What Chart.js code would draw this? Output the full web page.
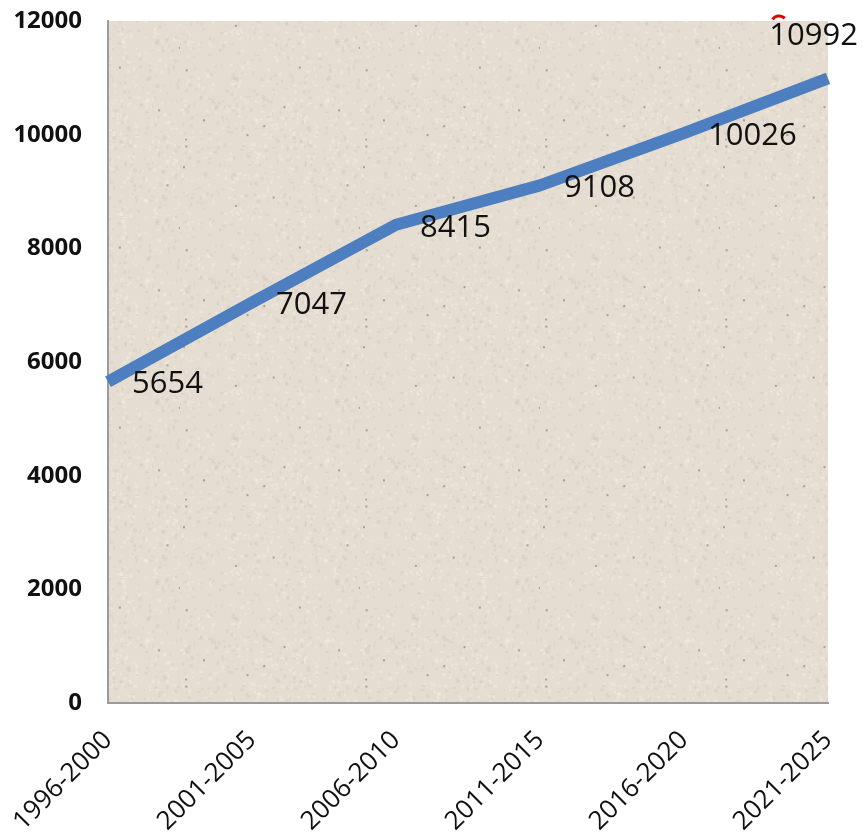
<!DOCTYPE html>
<html>
<head>
<meta charset="utf-8">
<script src="https://cdn.jsdelivr.net/npm/chart.js@4/dist/chart.umd.min.js"></script>
<style>
  html, body { margin: 0; padding: 0; background: #fff; }
  #wrap { width: 865px; height: 835px; position: relative; }
</style>
</head>
<body>
<div id="wrap"><canvas id="chart" width="865" height="835"></canvas></div>
<script>
// periods on the x axis and the population values for each period
const periods = ['1996-2000', '2001-2005', '2006-2010', '2011-2015', '2016-2020', '2021-2025'];
const values = [5654, 7047, 8415, 9108, 10026, 10992];
const yTicks = [0, 2000, 4000, 6000, 8000, 10000, 12000];

// builds a small speckled paper tile used to fill the plot area
function makePaperPattern(ctx) {
  const tile = document.createElement('canvas');
  tile.width = 180;
  tile.height = 180;
  const t = tile.getContext('2d');
  t.fillStyle = '#e5ddd1';
  t.fillRect(0, 0, 180, 180);
  let seed = 7;
  function rnd() {
    seed = (seed * 16807) % 2147483647;
    return (seed - 1) / 2147483646;
  }
  // soft light and dark blotches
  for (let i = 0; i < 900; i++) {
    const x = rnd() * 180, y = rnd() * 180;
    const light = rnd() > 0.5;
    t.fillStyle = light ? 'rgba(245,241,234,0.35)' : 'rgba(200,190,175,0.25)';
    t.fillRect(x, y, 1 + rnd() * 3, 1 + rnd() * 3);
  }
  // a few darker grains
  for (let i = 0; i < 14; i++) {
    const x = rnd() * 180, y = rnd() * 180;
    t.fillStyle = 'rgba(120,110,100,0.55)';
    t.fillRect(x, y, 2, 2);
  }
  return ctx.createPattern(tile, 'repeat');
}

const paperBackground = {
  id: 'paperBackground',
  beforeDraw(chart) {
    const { ctx, chartArea } = chart;
    ctx.save();
    ctx.fillStyle = makePaperPattern(ctx);
    ctx.fillRect(chartArea.left, chartArea.top,
      chartArea.right - chartArea.left, chartArea.bottom - chartArea.top);
    ctx.restore();
  }
};

// value labels: below and right of each point, above the point when it would run off the right side
const valueLabels = {
  id: 'valueLabels',
  afterDatasetsDraw(chart) {
    const { ctx } = chart;
    const meta = chart.getDatasetMeta(0);
    ctx.save();
    ctx.font = '31px "Open Sans", sans-serif';
    ctx.fillStyle = '#111';
    ctx.textBaseline = 'middle';
    meta.data.forEach((pt, i) => {
      const text = String(chart.data.datasets[0].data[i]);
      const w = ctx.measureText(text).width;
      if (pt.x + 24 + w > chart.width) {
        ctx.textAlign = 'right';
        ctx.fillText(text, pt.x + 30, pt.y - 42);
      } else {
        ctx.textAlign = 'left';
        ctx.fillText(text, pt.x + 24, pt.y + 3);
      }
    });
    // small red stroke near the top right corner
    ctx.strokeStyle = '#e00000';
    ctx.lineWidth = 3;
    ctx.beginPath();
    ctx.arc(779, 24, 8, Math.PI * 1.2, Math.PI * 1.75);
    ctx.stroke();
    ctx.restore();
  }
};

new Chart(document.getElementById('chart'), {
  type: 'line',
  data: {
    labels: periods,
    datasets: [{
      data: values,
      borderColor: '#4d7ebf',
      borderWidth: 12,
      pointRadius: 0,
      tension: 0,
      fill: false,
      borderJoinStyle: 'round',
      borderCapStyle: 'butt'
    }]
  },
  options: {
    responsive: false,
    animation: false,
    layout: { padding: { top: 21, right: 37, left: 0, bottom: 0 } },
    plugins: {
      legend: { display: false },
      tooltip: { enabled: false }
    },
    scales: {
      x: {
        offset: false,
        grid: { display: false, drawTicks: false },
        border: { display: true, color: '#9b9b9b', width: 2 },
        ticks: {
          minRotation: 45,
          maxRotation: 45,
          padding: 22,
          color: '#111',
          font: { family: '"Open Sans", sans-serif', size: 26 }
        },
        afterFit(scale) {
          scale.height = 132;
          scale.paddingLeft = 0;
          scale.paddingRight = 0;
        }
      },
      y: {
        min: 0,
        max: 12000,
        afterBuildTicks(scale) { scale.ticks = yTicks.map(v => ({ value: v })); },
        grid: { display: false, drawTicks: false },
        border: { display: true, color: '#9b9b9b', width: 2 },
        ticks: {
          padding: 26,
          color: '#111',
          font: { family: '"Open Sans", sans-serif', size: 24, weight: 'bold' },
          callback: v => String(v)
        },
        afterFit(scale) {
          scale.width = 108;
          scale.paddingTop = 0;
          scale.paddingBottom = 0;
        }
      }
    }
  },
  plugins: [paperBackground, valueLabels]
});
</script>
</body>
</html>
